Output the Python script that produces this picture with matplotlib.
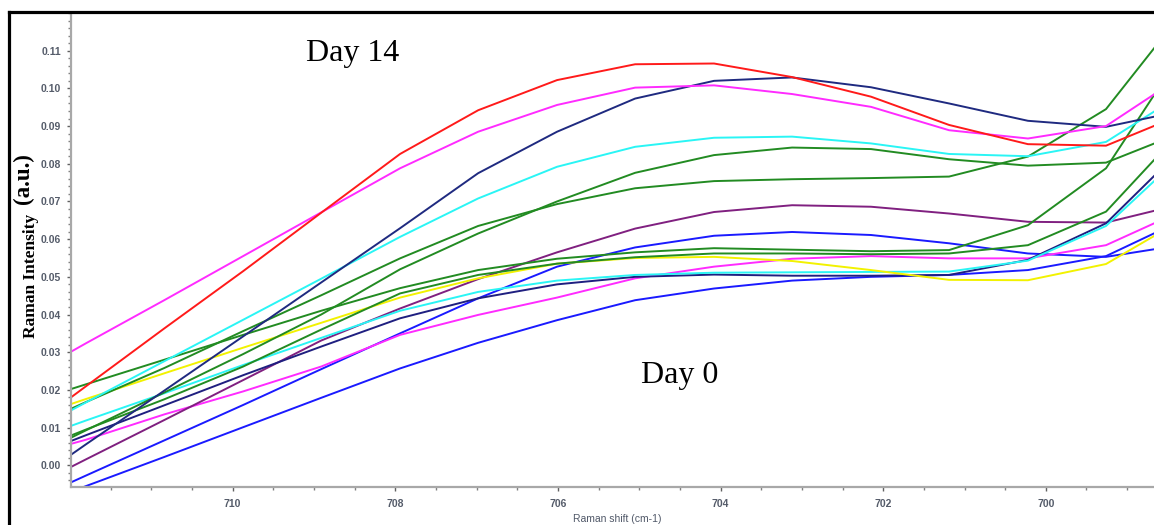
import matplotlib.pyplot as plt
from matplotlib.lines import Line2D
from matplotlib.ticker import MultipleLocator, FormatStrFormatter

# Raman shift (cm-1), eixo invertido
shift = [712.77, 711.80, 710.84, 709.87, 708.91, 707.94, 706.98, 706.01,
         705.05, 704.08, 703.12, 702.15, 701.19, 700.22, 699.26, 698.29]

# Espectros (intensidade em u.a.)
red = [0.0055, 0.0210, 0.0363, 0.0515, 0.0670, 0.0826, 0.0942, 0.1022,
       0.1064, 0.1066, 0.1030, 0.0978, 0.0903, 0.0852, 0.0848, 0.0934]
magenta_top = [0.0206, 0.0324, 0.0438, 0.0555, 0.0671, 0.0788, 0.0885, 0.0956,
               0.1002, 0.1008, 0.0985, 0.0951, 0.0889, 0.0867, 0.0900, 0.1038]
navy_top = [-0.0090, 0.0056, 0.0198, 0.0342, 0.0485, 0.0629, 0.0775, 0.0885,
            0.0973, 0.1020, 0.1029, 0.1003, 0.0960, 0.0914, 0.0898, 0.0942]
cyan_top = [0.0056, 0.0167, 0.0276, 0.0386, 0.0495, 0.0606, 0.0708, 0.0792,
            0.0845, 0.0869, 0.0872, 0.0854, 0.0826, 0.0820, 0.0858, 0.0990]
green_a = [0.0074, 0.0168, 0.0258, 0.0356, 0.0451, 0.0549, 0.0635, 0.0693,
           0.0735, 0.0754, 0.0759, 0.0762, 0.0766, 0.0819, 0.0945, 0.1210]
green_b = [-0.0010, 0.0093, 0.0193, 0.0295, 0.0400, 0.0520, 0.0615, 0.0700,
           0.0776, 0.0823, 0.0843, 0.0839, 0.0812, 0.0795, 0.0803, 0.0886]
green_c = [0.0149, 0.0215, 0.0280, 0.0346, 0.0410, 0.0470, 0.0518, 0.0548,
           0.0565, 0.0576, 0.0572, 0.0568, 0.0571, 0.0637, 0.0788, 0.1107]
green_d = [0.0012, 0.0095, 0.0175, 0.0262, 0.0360, 0.0456, 0.0505, 0.0535,
           0.0552, 0.0562, 0.0562, 0.0560, 0.0562, 0.0584, 0.0673, 0.0898]
yellow = [0.0106, 0.0176, 0.0244, 0.0312, 0.0378, 0.0445, 0.0496, 0.0535,
          0.0550, 0.0553, 0.0542, 0.0518, 0.0492, 0.0491, 0.0534, 0.0656]
cyan_low = [0.0044, 0.0119, 0.0191, 0.0266, 0.0338, 0.0410, 0.0460, 0.0490,
            0.0505, 0.0511, 0.0512, 0.0513, 0.0514, 0.0543, 0.0635, 0.0830]
navy_low = [-0.0001, 0.0080, 0.0159, 0.0239, 0.0315, 0.0390, 0.0443, 0.0480,
            0.0500, 0.0506, 0.0503, 0.0503, 0.0505, 0.0545, 0.0642, 0.0848]
purple = [-0.0090, 0.0016, 0.0120, 0.0226, 0.0331, 0.0416, 0.0494, 0.0565,
          0.0628, 0.0672, 0.0690, 0.0686, 0.0668, 0.0646, 0.0644, 0.0695]
magenta_low = [0.0010, 0.0068, 0.0135, 0.0196, 0.0262, 0.0346, 0.0399, 0.0445,
               0.0496, 0.0527, 0.0548, 0.0555, 0.0549, 0.0549, 0.0584, 0.0679]
blue_top = [-0.0122, -0.0027, 0.0066, 0.0160, 0.0255, 0.0350, 0.0443, 0.0527,
            0.0578, 0.0609, 0.0619, 0.0611, 0.0589, 0.0562, 0.0553, 0.0586]
blue_low = [-0.0135, -0.0055, 0.0022, 0.0101, 0.0179, 0.0257, 0.0325, 0.0385,
            0.0438, 0.0469, 0.0490, 0.0500, 0.0505, 0.0518, 0.0555, 0.0654]

series = [
    (blue_low, '#1a1aff'), (blue_top, '#1a1aff'), (magenta_low, '#ff2bff'),
    (purple, '#802080'), (navy_low, '#1f1f80'), (cyan_low, '#2af5f5'),
    (yellow, '#f2f200'), (green_d, '#228b22'), (green_c, '#228b22'),
    (green_b, '#228b22'), (green_a, '#228b22'), (cyan_top, '#2af5f5'),
    (navy_top, '#1f2a80'), (magenta_top, '#ff2bff'), (red, '#ff1a1a'),
]

W, H = 1154, 525
fig = plt.figure(figsize=(W / 100, H / 100), dpi=100)
ax = fig.add_axes([70.7 / W, 1 - 486.7 / H, 1 - 70.7 / W, (486.7 - 13) / H])

for y, cor in series:
    ax.plot(shift, y, color=cor, linewidth=1.4)

ax.set_xlim(711.99, 698.67)
ax.set_ylim(-0.00568, 0.1200)

# Eixos
for lado in ['top', 'right']:
    ax.spines[lado].set_visible(False)
for lado in ['left', 'bottom']:
    ax.spines[lado].set_color('#a8a8a8')
    ax.spines[lado].set_linewidth(1.6)

ax.xaxis.set_major_locator(MultipleLocator(2))
ax.xaxis.set_minor_locator(MultipleLocator(0.5))
ax.yaxis.set_major_locator(MultipleLocator(0.01))
ax.yaxis.set_minor_locator(MultipleLocator(0.002))
ax.yaxis.set_major_formatter(FormatStrFormatter('%.2f'))
ax.set_yticks([i / 100 for i in range(12)])

ax.tick_params(which='major', direction='out', length=3, width=1, color='#606060',
               labelsize=7.5, labelcolor='#555c6a')
ax.tick_params(which='minor', direction='out', length=2, width=1, color='#808080')
ax.tick_params(axis='x', which='major', pad=6)
ax.tick_params(axis='y', which='major', pad=4)
for lbl in ax.get_xticklabels() + ax.get_yticklabels():
    lbl.set_fontfamily('Liberation Sans')
    lbl.set_fontweight('bold')

ax.set_xlabel('Raman shift (cm-1)', fontsize=7.5, color='#505868',
              fontfamily='Liberation Sans', va='center')
ax.xaxis.set_label_coords((617 - 70.7) / (W - 70.7), (486.7 - 519) / (486.7 - 13))

ax.set_ylabel('Raman Intensity', fontsize=12.5, fontweight='bold',
              fontfamily='Liberation Serif', va='center')
ax.yaxis.set_label_coords((31 - 70.7) / (W - 70.7), (486.7 - 276) / (486.7 - 13))
fig.text(23 / W, 1 - 179 / H, '(a.u.)', rotation=90, fontsize=16.5, fontweight='bold',
         fontfamily='Liberation Serif', ha='center', va='center')

# Anotações
fig.text(306 / W, 1 - 61 / H, 'Day 14', fontsize=23, fontfamily='Liberation Serif',
         ha='left', va='baseline')
fig.text(641 / W, 1 - 383 / H, 'Day 0', fontsize=23, fontfamily='Liberation Serif',
         ha='left', va='baseline')

# Moldura preta externa
fig.add_artist(Line2D([9 / W, 1], [1 - 11.7 / H, 1 - 11.7 / H], color='black', linewidth=2.3))
fig.add_artist(Line2D([9 / W, 9 / W], [0, 1 - 11.7 / H], color='black', linewidth=2.3))

fig.savefig('out.png', dpi=100)
